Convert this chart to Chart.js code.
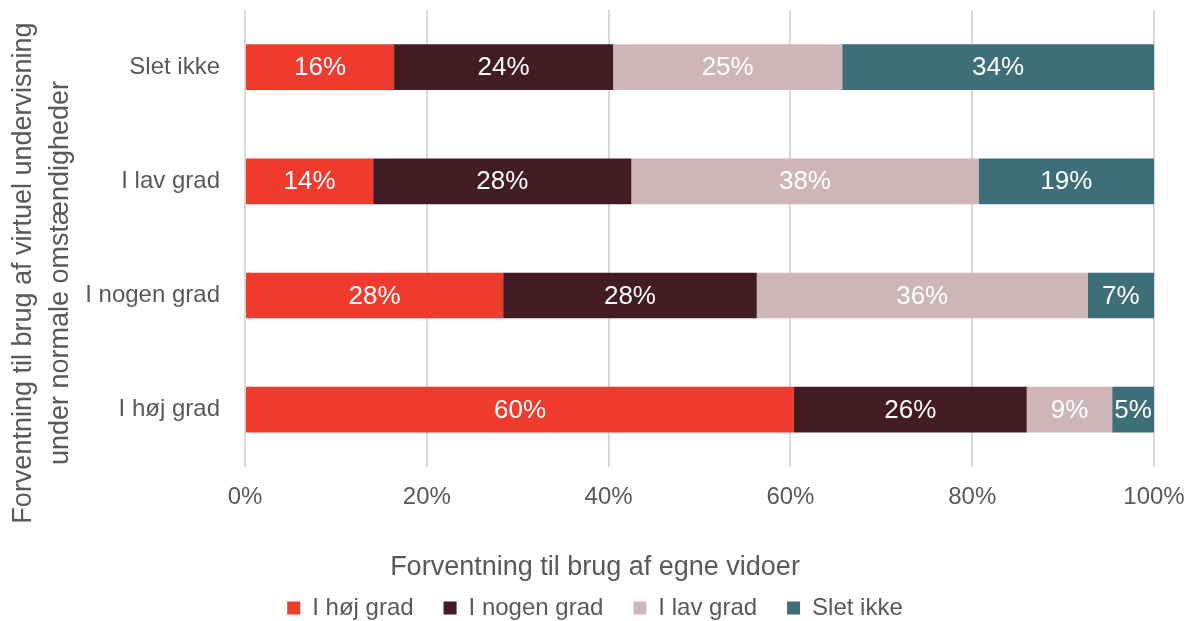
<!DOCTYPE html>
<html>
<head>
<meta charset="utf-8">
<script src="https://cdn.jsdelivr.net/npm/chart.js@4/dist/chart.umd.min.js"></script>
<style>
  html, body { margin: 0; padding: 0; background: #fff; }
  #wrap { width: 1190px; height: 621px; }
</style>
</head>
<body>
<div id="wrap"><canvas id="chart"></canvas></div>
<script>
// Kategorier (y-aksen)
const kategorier = ['Slet ikke', 'I lav grad', 'I nogen grad', 'I høj grad'];

// Serier (andele i procent)
const hojGrad   = [16.4, 14.1, 28.4, 60.4];
const nogenGrad = [24.1, 28.4, 27.9, 25.6];
const lavGrad   = [25.2, 38.2, 36.4, 9.4];
const sletIkke  = [34.3, 19.3, 7.3, 4.6];

const xTicks = [0, 20, 40, 60, 80, 100];

const yTitel = ['Forventning til brug af virtuel undervisning', 'under normale omstændigheder'];
const xTitel = 'Forventning til brug af egne vidoer';

const tekstFarve = '#595959';
const skrift = "'Liberation Sans', Arial, sans-serif";

// Procent-etiketter midt i hvert segment
const etiketter = {
    id: 'etiketter',
    afterDatasetsDraw(chart) {
        const ctx = chart.ctx;
        ctx.save();
        ctx.font = '26px ' + skrift;
        ctx.fillStyle = '#ffffff';
        ctx.textAlign = 'center';
        ctx.textBaseline = 'middle';
        chart.data.datasets.forEach((ds, i) => {
            const meta = chart.getDatasetMeta(i);
            meta.data.forEach((bar, j) => {
                const v = ds.data[j];
                ctx.fillText(Math.round(v) + '%', (bar.x + bar.base) / 2, bar.y + 1);
            });
        });
        ctx.restore();
    }
};

// Lodret aksetitel i to linjer
const yAkseTitel = {
    id: 'yAkseTitel',
    afterDraw(chart) {
        const ctx = chart.ctx;
        ctx.save();
        ctx.font = '27px ' + skrift;
        ctx.fillStyle = tekstFarve;
        ctx.textAlign = 'center';
        ctx.textBaseline = 'middle';
        [24, 61].forEach((x, i) => {
            ctx.save();
            ctx.translate(x, 273);
            ctx.rotate(-Math.PI / 2);
            ctx.fillText(yTitel[i], 0, 0);
            ctx.restore();
        });
        ctx.restore();
    }
};

const ctx = document.getElementById('chart').getContext('2d');
const chart = new Chart(ctx, {
    type: 'bar',
    data: {
        labels: kategorier,
        datasets: [
            { label: 'I høj grad', data: hojGrad, backgroundColor: '#ee3b2e' },
            { label: 'I nogen grad', data: nogenGrad, backgroundColor: '#421b24' },
            { label: 'I lav grad', data: lavGrad, backgroundColor: '#ceb6b8' },
            { label: 'Slet ikke', data: sletIkke, backgroundColor: '#3e6e78' }
        ]
    },
    options: {
        indexAxis: 'y',
        responsive: true,
        maintainAspectRatio: false,
        animation: false,
        barPercentage: 0.4,
        categoryPercentage: 1,
        layout: { padding: { top: 10, right: 0, left: 0, bottom: -9 } },
        scales: {
            x: {
                stacked: true,
                min: 0,
                max: 100,
                afterBuildTicks(axis) {
                    axis.ticks = xTicks.map(v => ({ value: v }));
                },
                afterFit(scale) {
                    scale.paddingLeft = 0;
                    scale.paddingRight = 36;
                },
                grid: { color: '#d9d9d9', lineWidth: 2, drawTicks: false },
                border: { display: false },
                ticks: {
                    color: tekstFarve,
                    font: { family: skrift, size: 24 },
                    padding: 16,
                    callback: v => v + '%'
                }
            },
            y: {
                stacked: true,
                grid: { display: false, drawTicks: false },
                border: { display: false },
                afterFit(scale) {
                    scale.paddingTop = 0;
                    scale.paddingBottom = 0;
                    scale.width = 245;
                },
                ticks: {
                    color: tekstFarve,
                    font: { family: skrift, size: 24 },
                    padding: 25
                }
            }
        },
        plugins: {
            title: {
                display: true,
                position: 'bottom',
                weight: 500,
                text: xTitel,
                color: tekstFarve,
                font: { family: skrift, size: 27, weight: 'normal' },
                padding: { top: 24, bottom: -18 }
            },
            legend: {
                position: 'bottom',
                labels: {
                    color: tekstFarve,
                    font: { family: skrift, size: 24 },
                    boxWidth: 13,
                    boxHeight: 13,
                    padding: 30
                }
            },
            tooltip: { enabled: false }
        }
    },
    plugins: [etiketter, yAkseTitel]
});
</script>
</body>
</html>
